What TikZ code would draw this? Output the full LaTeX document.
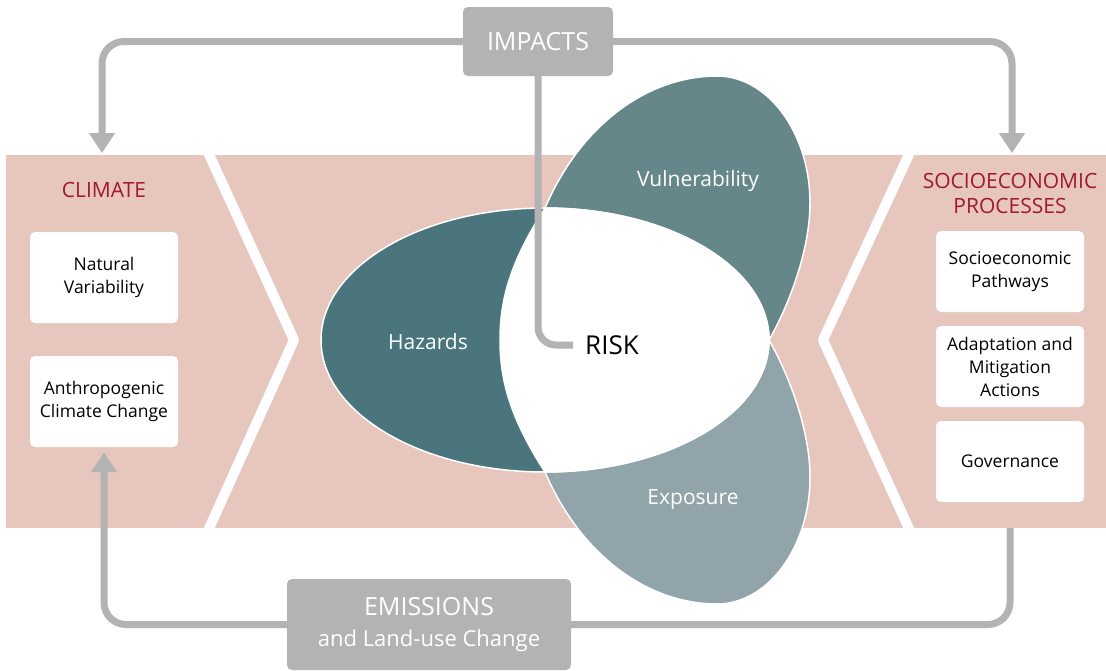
\documentclass[tikz,border=0pt]{standalone}
\usepackage{fontspec}
\setmainfont{Open Sans}
\usetikzlibrary{arrows.meta,positioning}
\definecolor{bandpink}{HTML}{E7C6BD}
\definecolor{flowgray}{HTML}{B3B3B3}
\definecolor{hazteal}{HTML}{4A757C}
\definecolor{vulteal}{HTML}{65878A}
\definecolor{expteal}{HTML}{91A4A9}
\definecolor{titlered}{HTML}{A0192E}

\begin{document}
\begin{tikzpicture}[
  x=1pt, y=-1pt,
  factorbox/.style={fill=white, rounded corners=5pt, minimum width=148pt, align=center,
    inner sep=0pt, font=\fontsize{17.5}{23}\selectfont},
  paneltitle/.style={text=titlered, align=center, font=\fontsize{21}{25}\selectfont},
  petallabel/.style={text=white, font=\fontsize{21}{25}\selectfont},
  graybox/.style={fill=flowgray, rounded corners=5pt, text=white, align=center, inner sep=0pt},
  flow/.style={draw=flowgray, line width=7pt, rounded corners=22pt},
  flowtip/.style={-{Triangle[width=25pt,length=20pt]}},
  petaledge/.style={draw=white, line width=1.5pt}
]
\useasboundingbox (0,0) rectangle (1106,670);

% band and chevrons
\fill[bandpink] (6,155) rectangle (1106,528);
\draw[white, line width=10pt, line join=round] (207,150) -- (294,340) -- (207,533);
\draw[white, line width=10pt, line join=round] (911,150) -- (823,340) -- (911,533);

% the three petals
\filldraw[fill=hazteal, petaledge] (545,340) ellipse [x radius=224pt, y radius=132pt];
\filldraw[fill=vulteal, petaledge] (545,208) .. controls (582,122) and (650,76) .. (717,76)
  .. controls (768,76) and (810,133) .. (810,203) .. controls (810,250) and (789,305) .. (769,340)
  arc[start angle=0, end angle=90, x radius=224pt, y radius=132pt] -- cycle;
\filldraw[fill=expteal, petaledge] (545,472) .. controls (582,558) and (650,604) .. (717,604)
  .. controls (768,604) and (810,547) .. (810,477) .. controls (810,430) and (789,375) .. (769,340)
  arc[start angle=0, end angle=-90, x radius=224pt, y radius=132pt] -- cycle;
\filldraw[fill=white, petaledge] (545,208) arc[start angle=90, end angle=-90, x radius=224pt, y radius=132pt]
  .. controls (510,418) and (500,380) .. (500,340) .. controls (500,300) and (510,262) .. cycle;

\node[petallabel] (hazards) at (428,342) {Hazards};
\node[petallabel] (vulnerability) at (698,181) {Vulnerability};
\node[petallabel] (exposure) at (693,500) {Exposure};
\node[font=\fontsize{26}{30}\selectfont, inner xsep=12pt, inner ysep=0pt] (risk) at (612,345) {RISK};

% climate panel
\node[paneltitle] (climate) at (104,190) {CLIMATE};
\node[factorbox, minimum height=91pt] (natural) at (104,277.5) {Natural\\Variability};
\node[factorbox, minimum height=91pt] (anthro) at (104,401.5) {Anthropogenic\\Climate Change};

% socioeconomic panel
\node[paneltitle] (socio) at (1010,193) {SOCIOECONOMIC\\PROCESSES};
\node[factorbox, minimum height=81pt] (pathways) at (1010,271.5) {Socioeconomic\\Pathways};
\node[factorbox, minimum height=81pt] (actions) at (1010,366.5) {Adaptation and\\Mitigation\\Actions};
\node[factorbox, minimum height=81pt] (governance) at (1010,461.5) {Governance};

% impacts and emissions
\node[graybox, minimum width=150pt, minimum height=69pt, font=\fontsize{25}{30}\selectfont]
  (impacts) at (538,41.5) {IMPACTS};
\node[graybox, minimum width=284pt, minimum height=91pt, font=\fontsize{25}{31}\selectfont]
  (emissions) at (429,624.5) {EMISSIONS\\\fontsize{22}{31}\selectfont and Land-use Change};

\coordinate (climtop) at (102,153);
\coordinate (sociotop) at (1012,153);
\coordinate (sociobot) at (1010,528);

\draw[flow, flowtip] (impacts.west) -| (climtop);
\draw[flow, flowtip] (impacts.east) -| (sociotop);
\draw[flow, rounded corners=18pt] (impacts.south) |- (risk.west);
\draw[flow] (sociobot) |- (emissions.east);
\draw[flow, flowtip] (emissions.west) -| ([yshift=-5pt]anthro.south);
\end{tikzpicture}
\end{document}
